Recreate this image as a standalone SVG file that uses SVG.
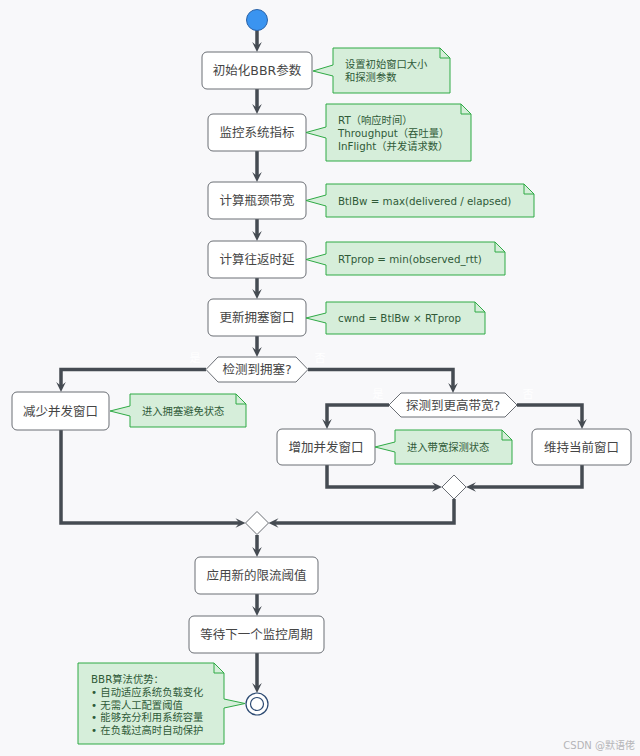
<svg xmlns="http://www.w3.org/2000/svg" width="640" height="756" viewBox="0 0 640 756">
<defs>
<style>
.node rect{fill:#ffffff;stroke:#6b6f75;stroke-width:1}
.nt{font-family:"DejaVu Sans","Noto Sans CJK SC",sans-serif;font-size:12.5px;fill:#454545;text-anchor:middle;dominant-baseline:central}
.note path{fill:#d6eeda;stroke:#2faa45;stroke-width:1}
.note .fold{fill:none}
.ntx{font-family:"DejaVu Sans","Noto Sans CJK SC",sans-serif;font-size:10.3px;fill:#2f5a38}
.conn path{fill:none;stroke:#454b52;stroke-width:3.5}
.lbl{font-family:"DejaVu Sans","Noto Sans CJK SC",sans-serif;font-size:11px;fill:#ffffff;text-anchor:middle;dominant-baseline:central}
.dia polygon{fill:#ffffff;stroke:#6b6f75;stroke-width:1}
</style>
<marker id="ah" viewBox="-11 -6 12 12" refX="-5" refY="0" markerWidth="12" markerHeight="12" markerUnits="userSpaceOnUse" orient="auto">
<path d="M0,0 L-10,-4.8 L-6,0 L-10,4.8 Z" fill="#454b52"/>
</marker>
</defs>
<rect x="0" y="0" width="640" height="756" fill="#f8f8fa"/>

<g id="connectors" class="conn">
<path d="M257,30 V47" marker-end="url(#ah)"/>
<path d="M257,89 V109" marker-end="url(#ah)"/>
<path d="M257,151 V177" marker-end="url(#ah)"/>
<path d="M257,219 V236" marker-end="url(#ah)"/>
<path d="M257,278 V294" marker-end="url(#ah)"/>
<path d="M257,336 V352" marker-end="url(#ah)"/>
<path d="M206,369.5 H61 V387" marker-end="url(#ah)"/>
<path d="M308,369.5 H453 V388" marker-end="url(#ah)"/>
<path d="M389,405 H327 V424" marker-end="url(#ah)"/>
<path d="M517,405 H582 V424" marker-end="url(#ah)"/>
<path d="M327,465 V487 H437" marker-end="url(#ah)"/>
<path d="M582,465 V487 H471" marker-end="url(#ah)"/>
<path d="M454,499 V523 H273.5" marker-end="url(#ah)"/>
<path d="M61,430 V523 H240.5" marker-end="url(#ah)"/>
<path d="M257,535 V552" marker-end="url(#ah)"/>
<path d="M257,594 V611" marker-end="url(#ah)"/>
<path d="M257,653 V688" marker-end="url(#ah)"/>
</g>

<g id="start"><circle cx="257" cy="20" r="10.5" fill="#3a94f0" stroke="#2b63a8" stroke-width="1"/></g>

<g id="n1" class="node"><rect x="202" y="52" width="110" height="37" rx="5"/><text class="nt" x="257" y="70.5">初始化BBR参数</text></g>
<g id="n2" class="node"><rect x="208" y="114" width="98" height="37" rx="5"/><text class="nt" x="257" y="132.5">监控系统指标</text></g>
<g id="n3" class="node"><rect x="208" y="182" width="98" height="37" rx="5"/><text class="nt" x="257" y="200.5">计算瓶颈带宽</text></g>
<g id="n4" class="node"><rect x="208" y="241" width="98" height="37" rx="5"/><text class="nt" x="257" y="259.5">计算往返时延</text></g>
<g id="n5" class="node"><rect x="208" y="299" width="98" height="37" rx="5"/><text class="nt" x="257" y="317.5">更新拥塞窗口</text></g>

<g id="d1" class="dia"><polygon points="206,369.5 218,357 296,357 308,369.5 296,382 218,382"/><text class="nt" x="257" y="369.5">检测到拥塞?</text></g>
<text class="lbl" x="195" y="358">是</text>
<text class="lbl" x="320" y="358">否</text>

<g id="n6" class="node"><rect x="12" y="392" width="97" height="38" rx="5"/><text class="nt" x="60.5" y="411">减少并发窗口</text></g>

<g id="d2" class="dia"><polygon points="389,405 401,393 505,393 517,405 505,417 401,417"/><text class="nt" x="453" y="405">探测到更高带宽?</text></g>
<text class="lbl" x="378" y="394">是</text>
<text class="lbl" x="528" y="394">否</text>

<g id="n7" class="node"><rect x="277" y="429" width="98" height="36" rx="5"/><text class="nt" x="326" y="447">增加并发窗口</text></g>
<g id="n8" class="node"><rect x="532" y="429" width="99" height="36" rx="5"/><text class="nt" x="581.5" y="447">维持当前窗口</text></g>

<g id="m2" class="dia"><polygon points="454,475 466,487 454,499 442,487"/></g>
<g id="m1" class="dia"><polygon points="257,511.5 268.5,523 257,534.5 245.5,523"/></g>

<g id="n9" class="node"><rect x="195" y="557" width="123" height="37" rx="5"/><text class="nt" x="256.5" y="575.5">应用新的限流阈值</text></g>
<g id="n10" class="node"><rect x="189" y="616" width="135" height="37" rx="5"/><text class="nt" x="256.5" y="634.5">等待下一个监控周期</text></g>

<g id="end"><circle cx="257" cy="704" r="11" fill="#ffffff" stroke="#2c4a72" stroke-width="1.2"/><circle cx="257" cy="704" r="6.5" fill="#ffffff" stroke="#2c4a72" stroke-width="1.2"/></g>

<g id="note1" class="note">
<path d="M333,48 H440 L450,58 V93 H333 V76 L313,71 L333,65 Z"/><path class="fold" d="M440,48 V58 H450"/>
<text class="ntx" x="345" y="68">设置初始窗口大小</text>
<text class="ntx" x="345" y="81">和探测参数</text>
</g>
<g id="note2" class="note">
<path d="M326,104 H461 L471,114 V161 H326 V138 L306,132.5 L326,127 Z"/><path class="fold" d="M461,104 V114 H471"/>
<text class="ntx" x="338" y="124">RT（响应时间）</text>
<text class="ntx" x="338" y="137">Throughput（吞吐量）</text>
<text class="ntx" x="338" y="150">InFlight（并发请求数）</text>
</g>
<g id="note3" class="note">
<path d="M326,184 H524 L534,194 V217 H326 V206 L306,200.5 L326,195 Z"/><path class="fold" d="M524,184 V194 H534"/>
<text class="ntx" x="338" y="204.5">BtlBw = max(delivered / elapsed)</text>
</g>
<g id="note4" class="note">
<path d="M326,242 H495 L505,252 V275 H326 V265 L306,259.5 L326,254 Z"/><path class="fold" d="M495,242 V252 H505"/>
<text class="ntx" x="338" y="262.5">RTprop = min(observed_rtt)</text>
</g>
<g id="note5" class="note">
<path d="M326,302 H475 L485,312 V334 H326 V323 L306,318 L326,313 Z"/><path class="fold" d="M475,302 V312 H485"/>
<text class="ntx" x="338" y="321.5">cwnd = BtlBw × RTprop</text>
</g>
<g id="note6" class="note">
<path d="M130,394 H236 L246,404 V427 H130 V416 L110,411 L130,406 Z"/><path class="fold" d="M236,394 V404 H246"/>
<text class="ntx" x="142" y="414.5">进入拥塞避免状态</text>
</g>
<g id="note7" class="note">
<path d="M395,430 H502 L512,440 V464 H395 V452 L375,447 L395,442 Z"/><path class="fold" d="M502,430 V440 H512"/>
<text class="ntx" x="407" y="450.5">进入带宽探测状态</text>
</g>
<g id="note8" class="note">
<path d="M78,663 H214 L224,673 V699 L245,703.5 L224,708 V744 H78 Z"/><path class="fold" d="M214,663 V673 H224"/>
<text class="ntx" x="91" y="683">BBR算法优势：</text>
<text class="ntx" x="91" y="696">• 自动适应系统负载变化</text>
<text class="ntx" x="91" y="708.5">• 无需人工配置阈值</text>
<text class="ntx" x="91" y="721">• 能够充分利用系统容量</text>
<text class="ntx" x="91" y="733.5">• 在负载过高时自动保护</text>
</g>

<text x="635" y="749" text-anchor="end" font-family="DejaVu Sans,'Noto Sans CJK SC',sans-serif" font-size="10" fill="#b5b5b8">CSDN @默语佬</text>
</svg>
